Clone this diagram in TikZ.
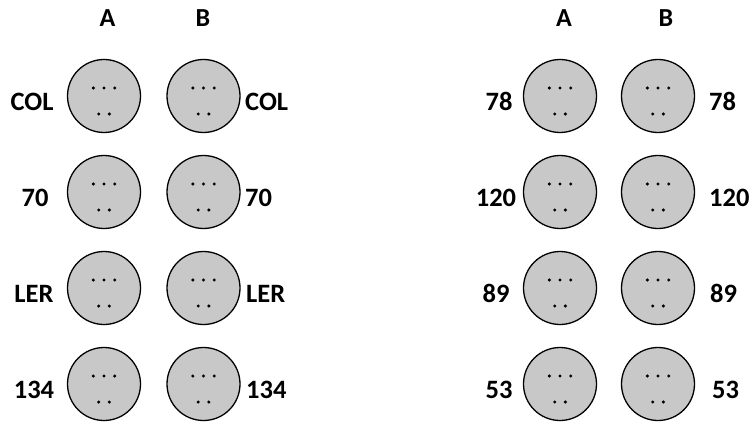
\documentclass[tikz,border=0pt]{standalone}
\usepackage{fontspec}
\setmainfont{Carlito}
\begin{document}
\begin{tikzpicture}[x=1pt,y=-1pt,
  ball/.style={circle,draw=black,line width=1.3pt,fill=ballgray,minimum size=73pt,inner sep=0pt},
  lab/.style={font=\bfseries\fontsize{26.5}{30}\selectfont,inner sep=0pt},
  head/.style={font=\bfseries\fontsize{26}{30}\selectfont,inner sep=0pt},
  dot/.style={fill=black}]
\definecolor{ballgray}{RGB}{200,200,200}
\useasboundingbox (0,0) rectangle (754,422);
% headers
\node[head] (hLA) at (107.5,18.5) {A};
\node[head] (hLB) at (203,18.5) {B};
\node[head] (hRA) at (564,18.5) {A};
\node[head] (hRB) at (666,18.5) {B};
% circles
\foreach \r/\y in {1/96,2/192,3/288,4/384}{
  \node[ball] (LA\r) at (104,\y) {};
  \node[ball] (LB\r) at (203.5,\y) {};
  \node[ball] (RA\r) at (560,\y) {};
  \node[ball] (RB\r) at (658,\y) {};
}
\foreach \n in {LA,LB,RA,RB}{
  \foreach \r in {1,2,3,4}{
    \fill[dot] ([shift={(-10.7,-8)}]\n\r.center) circle (1.7);
    \fill[dot] ([shift={(0,-8)}]\n\r.center) circle (1.7);
    \fill[dot] ([shift={(10.7,-8)}]\n\r.center) circle (1.7);
    \fill[dot] ([shift={(-5.3,18)}]\n\r.center) circle (1.7);
    \fill[dot] ([shift={(5.3,18)}]\n\r.center) circle (1.7);
  }
}
% left group labels
\node[lab] (la1) at (32,101.5) {COL};
\node[lab] (la2) at (35,197.5) {70};
\node[lab] (la3) at (34,293.5) {LER};
\node[lab] (la4) at (34,389.5) {134};
\node[lab,anchor=west] (lb1) at (245,101.5) {COL};
\node[lab,anchor=west] (lb2) at (245,197.5) {70};
\node[lab,anchor=west] (lb3) at (246,293.5) {LER};
\node[lab,anchor=west] (lb4) at (246,389.5) {134};
% right group labels
\node[lab] (ra1) at (499,101.5) {78};
\node[lab] (ra2) at (496,197.5) {120};
\node[lab] (ra3) at (496,293.5) {89};
\node[lab] (ra4) at (499,389.5) {53};
\node[lab,anchor=west] (rb1) at (709,101.5) {78};
\node[lab,anchor=west] (rb2) at (709,197.5) {120};
\node[lab,anchor=west] (rb3) at (710,293.5) {89};
\node[lab,anchor=west] (rb4) at (712,389.5) {53};
\end{tikzpicture}
\end{document}
